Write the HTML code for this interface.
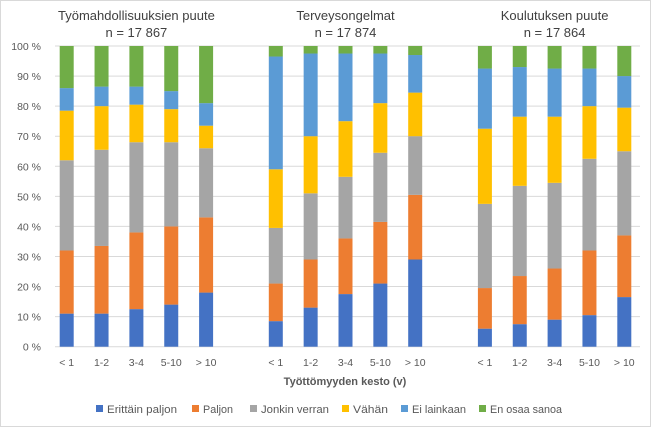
<!DOCTYPE html>
<html><head><meta charset="utf-8"><style>
html,body{margin:0;padding:0;background:#fff}
svg{display:block;font-family:"Liberation Sans",sans-serif}
</style></head><body>
<svg id="c" width="651" height="427">
<rect x="0.5" y="0.5" width="650" height="426" fill="#fff" stroke="#d9d9d9"/>
</svg>
<script>
const groups=["Työmahdollisuuksien puute","Terveysongelmat","Koulutuksen puute"];
const groupN=["n = 17 867","n = 17 874","n = 17 864"];
const categories=["< 1","1-2","3-4","5-10","> 10"];
const seriesNames=["Erittäin paljon","Paljon","Jonkin verran","Vähän","Ei lainkaan","En osaa sanoa"];
const colors=["#4472c4","#ed7d31","#a5a5a5","#ffc000","#5b9bd5","#70ad47"];
// percentages per series, 15 bars (3 groups x 5 categories)
const erittain=[11,11,12.5,14,18, 8.5,13,17.5,21,29, 6,7.5,9,10.5,16.5];
const paljon=[21,22.5,25.5,26,25, 12.5,16,18.5,20.5,21.5, 13.5,16,17,21.5,20.5];
const jonkin=[30,32,30,28,23, 18.5,22,20.5,23,19.5, 28,30,28.5,30.5,28];
const vahan=[16.5,14.5,12.5,11,7.5, 19.5,19,18.5,16.5,14.5, 25,23,22,17.5,14.5];
const eiLainkaan=[7.5,6.5,6,6,7.5, 37.5,27.5,22.5,16.5,12.5, 20,16.5,16,12.5,10.5];
const enOsaa=[14,13.5,13.5,15,19, 3.5,2.5,2.5,2.5,3, 7.5,7,7.5,7.5,10];
const series=[erittain,paljon,jonkin,vahan,eiLainkaan,enOsaa];
const yTicks=[0,10,20,30,40,50,60,70,80,90,100];

const NS="http://www.w3.org/2000/svg";
const svg=document.getElementById('c');
const y0=346.7,y1=46;
const yS=v=>y0-(y0-y1)*v/100;
const xS=i=>{const g=Math.floor(i/5),k=i%5;return 66.7+34.85*(g*6+k);};
function mk(t,a){const e=document.createElementNS(NS,t);for(const k in a)e.setAttribute(k,a[k]);svg.appendChild(e);return e;}
yTicks.forEach(t=>{
 const l=mk('line',{x1:55,x2:640,y1:yS(t),y2:yS(t),stroke:'#d9d9d9','stroke-width':1});
 
 
 const tx=mk('text',{x:41,y:yS(t)+4,'text-anchor':'end','font-size':10.5,fill:'#595959'});
 tx.textContent=t+' %';
 
 
});
const bw=14;
for(let i=0;i<15;i++){
 let acc=0;
 series.forEach((s,si)=>{
  const v=s[i];
  const r=mk('rect',{x:xS(i)-bw/2,y:yS(acc+v),width:bw,height:yS(acc)-yS(acc+v),fill:colors[si]});
  
  
  acc+=v;
 });
 const tx=mk('text',{x:xS(i),y:366,'text-anchor':'middle','font-size':10.5,fill:'#595959'});
 tx.textContent=categories[i%5];
 
 
}
groups.forEach((g,gi)=>{
 const cx=xS(gi*5+2);
 const t=mk('text',{x:cx,y:20,'text-anchor':'middle','font-size':13,fill:'#404040'});
 t.textContent=g;
 
 
 const n=mk('text',{x:cx,y:37,'text-anchor':'middle','font-size':13,fill:'#404040'});
 n.textContent=groupN[gi];
 
 
});
const at=mk('text',{x:345,y:385,'text-anchor':'middle','font-size':11,'font-weight':'bold',fill:'#595959'});
at.textContent='Työttömyyden kesto (v)';


const lx=[96,192,250,342,401,479];
const lw=[70,30,68,35,54,72];
seriesNames.forEach((s,i)=>{
 const r=mk('rect',{x:lx[i],y:405,width:7,height:7,fill:colors[i]});
 
 
 const t=mk('text',{x:lx[i]+11,y:413,'font-size':11,fill:'#595959',textLength:lw[i],lengthAdjust:'spacingAndGlyphs'});
 t.textContent=s;
 
 
});
</script>
</body></html>
